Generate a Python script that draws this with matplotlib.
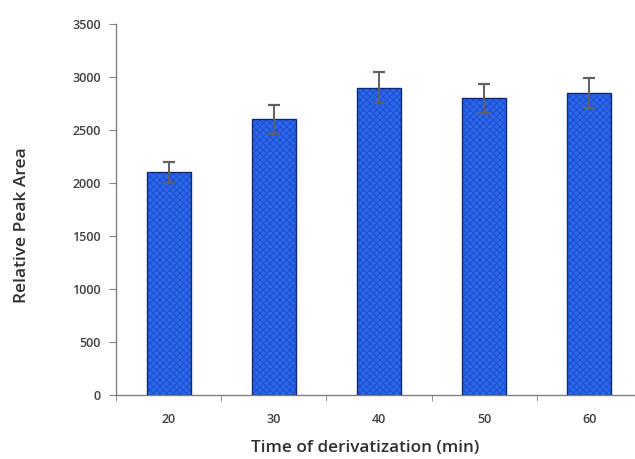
import matplotlib
matplotlib.use("Agg")
import matplotlib.pyplot as plt
import numpy as np

categories = ["20", "30", "40", "50", "60"]
values = [2100, 2600, 2900, 2800, 2850]
errors = [100, 135, 150, 135, 140]
yticks = [0, 500, 1000, 1500, 2000, 2500, 3000, 3500]

plt.rcParams['font.family'] = ['Open Sans', 'DejaVu Sans']
plt.rcParams['hatch.linewidth'] = 0.6

fig = plt.figure(figsize=(6.35, 4.59), dpi=100)
W, H = 635, 459
left, right, bottom, top = 116, 642, 395, 24
ax = fig.add_axes([left / W, 1 - bottom / H, (right - left) / W, (bottom - top) / H])

x = np.arange(len(categories))
ax.bar(x, values, width=0.42, color='#2a66ee', edgecolor='#1d4cc4', hatch='xxxxx', linewidth=0, zorder=2)
ax.bar(x, values, width=0.42, facecolor='none', edgecolor='#0d2a6e', linewidth=1.0, zorder=3)
ax.errorbar(x, values, yerr=errors, fmt='none', ecolor='#606060', elinewidth=1.4, capsize=4, capthick=1.6, zorder=4)

ax.set_xlim(-0.5, len(categories) - 0.5)
ax.set_ylim(0, 3500)
ax.set_yticks(yticks)
ax.set_xticks(x)
ax.set_xticklabels(categories)
ax.set_xticks(np.arange(len(categories) + 1) - 0.5, minor=True)
ax.tick_params(axis='x', which='major', length=0, pad=13, labelsize=9, labelcolor='#404040')
ax.tick_params(axis='x', which='minor', length=4, color='#808080', direction='out')
ax.tick_params(axis='y', length=5, color='#808080', direction='out', pad=6, labelsize=9, labelcolor='#404040')
for lab in ax.get_xticklabels() + ax.get_yticklabels():
    lab.set_fontweight('semibold')

for s in ['top', 'right']:
    ax.spines[s].set_visible(False)
for s in ['left', 'bottom']:
    ax.spines[s].set_color('#808080')
    ax.spines[s].set_linewidth(1.0)

fig.text(365 / W, 1 - 448 / H, 'Time of derivatization (min)', ha='center', va='center',
         fontsize=12.3, color='#303030', fontweight='semibold')
fig.text(22 / W, 1 - 225 / H, 'Relative Peak Area', ha='center', va='center', rotation=90,
         fontsize=12.5, color='#303030', fontweight='semibold')

fig.savefig('out.png', dpi=100)
